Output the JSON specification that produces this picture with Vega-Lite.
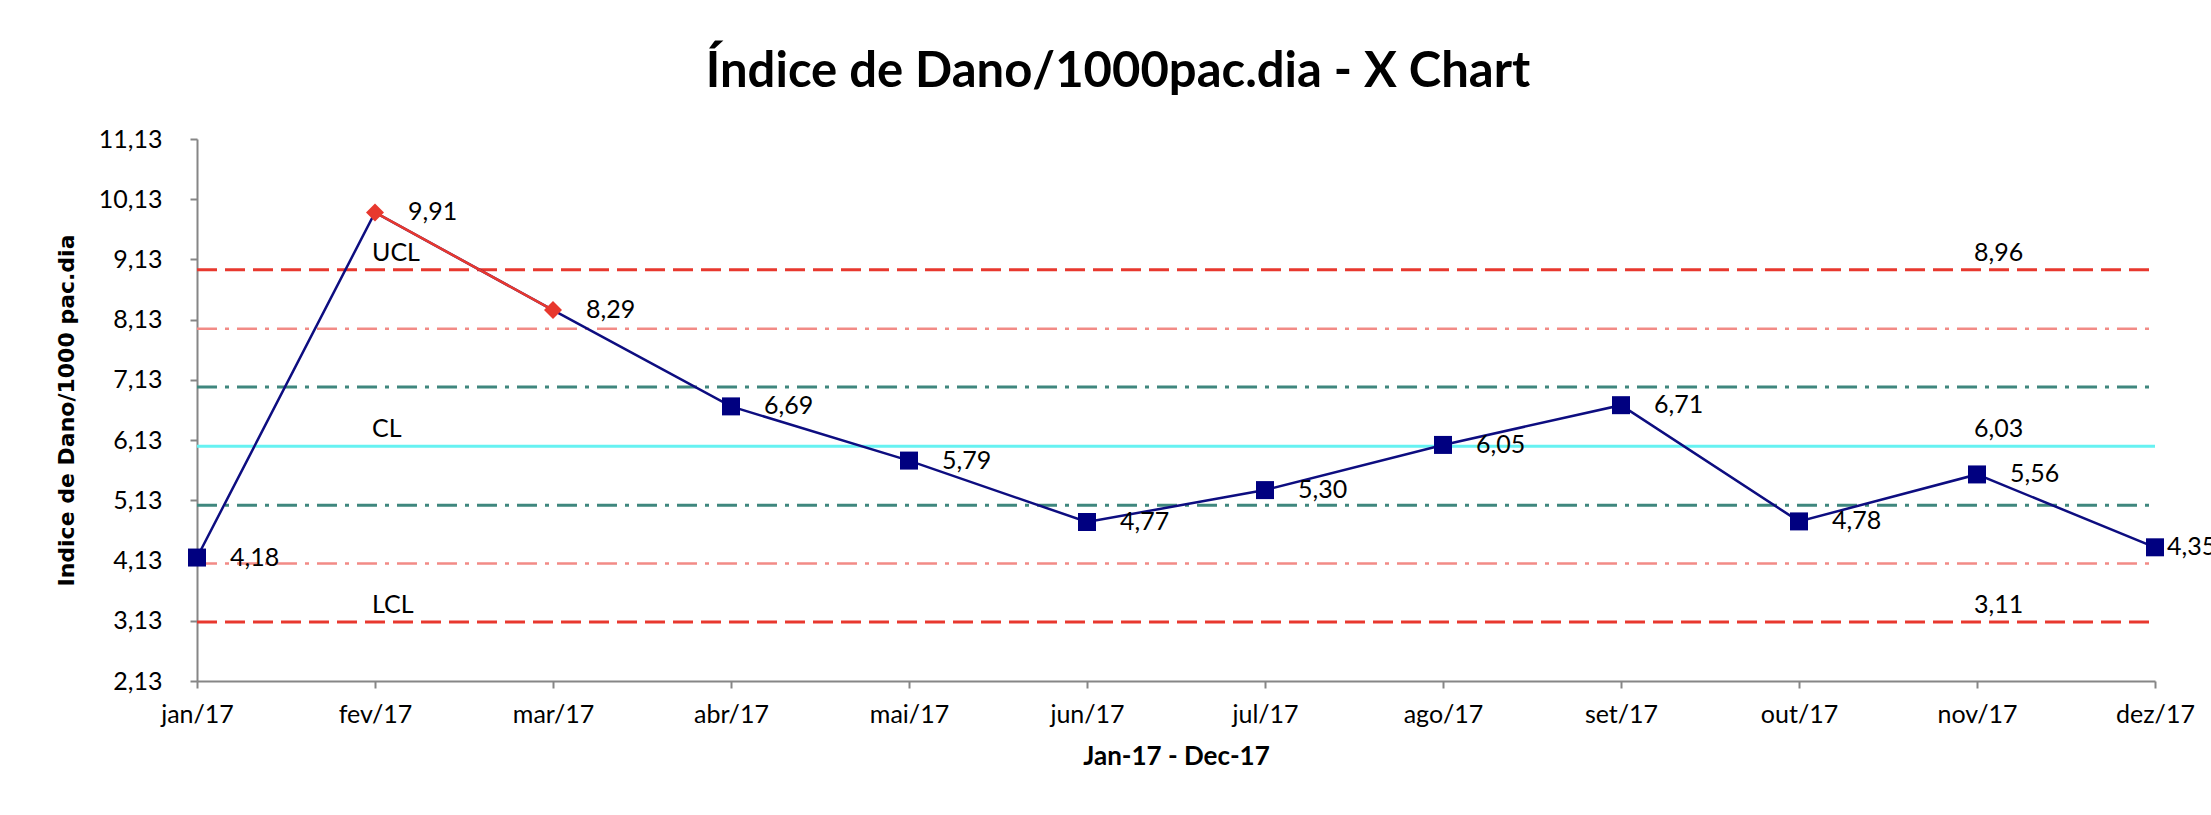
{
  "$schema": "https://vega.github.io/schema/vega-lite/v6.json",
  "width": 1958,
  "height": 542,
  "autosize": {"type": "none"},
  "padding": {"left": 197, "top": 139, "right": 56, "bottom": 134},
  "background": "white",
  "config": {
    "view": {"stroke": null},
    "locale": {"number": {"decimal": ",", "thousands": ".", "grouping": [3], "currency": ["R$", ""]}}
  },
  "title": {
    "text": "Índice de Dano/1000pac.dia - X Chart",
    "font": "Lato",
    "fontSize": 49,
    "fontWeight": "bold",
    "color": "black",
    "anchor": "middle",
    "frame": "group",
    "baseline": "alphabetic",
    "offset": -9,
    "dx": -58
  },
  "datasets": {
    "series": [
      {"month": "jan/17", "value": 4.18, "out": false},
      {"month": "fev/17", "value": 9.91, "out": true},
      {"month": "mar/17", "value": 8.29, "out": true},
      {"month": "abr/17", "value": 6.69, "out": false},
      {"month": "mai/17", "value": 5.79, "out": false},
      {"month": "jun/17", "value": 4.77, "out": false},
      {"month": "jul/17", "value": 5.30, "out": false},
      {"month": "ago/17", "value": 6.05, "out": false},
      {"month": "set/17", "value": 6.71, "out": false},
      {"month": "out/17", "value": 4.78, "out": false},
      {"month": "nov/17", "value": 5.56, "out": false},
      {"month": "dez/17", "value": 4.35, "out": false}
    ],
    "limits": [
      {"lim": "UCL", "kind": "ctrl", "month": "jan/17", "value": 8.96},
      {"lim": "UCL", "kind": "ctrl", "month": "dez/17", "value": 8.96},
      {"lim": "LCL", "kind": "ctrl", "month": "jan/17", "value": 3.11},
      {"lim": "LCL", "kind": "ctrl", "month": "dez/17", "value": 3.11},
      {"lim": "U2", "kind": "s2", "month": "jan/17", "value": 7.98},
      {"lim": "U2", "kind": "s2", "month": "dez/17", "value": 7.98},
      {"lim": "L2", "kind": "s2", "month": "jan/17", "value": 4.08},
      {"lim": "L2", "kind": "s2", "month": "dez/17", "value": 4.08},
      {"lim": "U1", "kind": "s1", "month": "jan/17", "value": 7.01},
      {"lim": "U1", "kind": "s1", "month": "dez/17", "value": 7.01},
      {"lim": "L1", "kind": "s1", "month": "jan/17", "value": 5.05},
      {"lim": "L1", "kind": "s1", "month": "dez/17", "value": 5.05},
      {"lim": "CL", "kind": "cl", "month": "jan/17", "value": 6.03},
      {"lim": "CL", "kind": "cl", "month": "dez/17", "value": 6.03}
    ],
    "limitLabels": [
      {"month": "fev/17", "value": 8.96, "text": "UCL"},
      {"month": "fev/17", "value": 6.03, "text": "CL"},
      {"month": "fev/17", "value": 3.11, "text": "LCL"},
      {"month": "nov/17", "value": 8.96, "text": "8,96"},
      {"month": "nov/17", "value": 6.03, "text": "6,03"},
      {"month": "nov/17", "value": 3.11, "text": "3,11"}
    ]
  },
  "data": {"name": "series"},
  "encoding": {
    "x": {
      "field": "month",
      "type": "ordinal",
      "scale": {
        "type": "point",
        "padding": 0,
        "domain": ["jan/17", "fev/17", "mar/17", "abr/17", "mai/17", "jun/17", "jul/17", "ago/17", "set/17", "out/17", "nov/17", "dez/17"]
      },
      "axis": {
        "title": "Jan-17 - Dec-17",
        "titleFont": "Lato",
        "titleFontSize": 26,
        "titleFontWeight": "bold",
        "titleColor": "black",
        "titlePadding": 16,
        "labelFont": "Lato",
        "labelFontSize": 25,
        "labelColor": "black",
        "labelAngle": 0,
        "labelPadding": 14,
        "tickSize": 7,
        "tickWidth": 2,
        "tickColor": "#868686",
        "domainColor": "#868686",
        "domainWidth": 2,
        "grid": false
      }
    },
    "y": {
      "field": "value",
      "type": "quantitative",
      "scale": {"domain": [2.13, 11.13], "nice": false, "zero": false},
      "axis": {
        "title": "Indice de Dano/1000 pac.dia",
        "titleFont": "DejaVu Sans",
        "titleFontSize": 22,
        "titleFontWeight": "bold",
        "titleColor": "black",
        "titlePadding": 20,
        "values": [2.13, 3.13, 4.13, 5.13, 6.13, 7.13, 8.13, 9.13, 10.13, 11.13],
        "format": ".2f",
        "labelFont": "Lato",
        "labelFontSize": 25,
        "labelColor": "black",
        "labelPadding": 28,
        "tickSize": 7,
        "tickWidth": 2,
        "tickColor": "#868686",
        "domainColor": "#868686",
        "domainWidth": 2,
        "grid": false
      }
    }
  },
  "layer": [
    {
      "data": {"name": "limits"},
      "transform": [{"filter": "datum.kind === 's1'"}],
      "mark": {"type": "line", "color": "#3f877e", "strokeWidth": 3, "strokeDash": [20, 8, 4, 8]},
      "encoding": {"detail": {"field": "lim"}}
    },
    {
      "data": {"name": "limits"},
      "transform": [{"filter": "datum.kind === 's2'"}],
      "mark": {"type": "line", "color": "#f28b86", "strokeWidth": 2.5, "strokeDash": [20, 8, 4, 8]},
      "encoding": {"detail": {"field": "lim"}}
    },
    {
      "data": {"name": "limits"},
      "transform": [{"filter": "datum.kind === 'cl'"}],
      "mark": {"type": "line", "color": "#66f2f2", "strokeWidth": 3},
      "encoding": {"detail": {"field": "lim"}}
    },
    {
      "data": {"name": "limits"},
      "transform": [{"filter": "datum.kind === 'ctrl'"}],
      "mark": {"type": "line", "color": "#e8382e", "strokeWidth": 3, "strokeDash": [20, 8]},
      "encoding": {"detail": {"field": "lim"}}
    },
    {
      "data": {"name": "limitLabels"},
      "mark": {"type": "text", "align": "left", "baseline": "alphabetic", "dx": -3, "dy": -9, "font": "Lato", "fontSize": 25, "color": "black"},
      "encoding": {"text": {"field": "text"}}
    },
    {
      "mark": {"type": "line", "color": "#0d0d80", "strokeWidth": 2.5},
      "encoding": {}
    },
    {
      "transform": [{"filter": "datum.out"}],
      "mark": {"type": "line", "color": "#e8382e", "strokeWidth": 2.5},
      "encoding": {}
    },
    {
      "transform": [{"filter": "!datum.out"}],
      "mark": {"type": "point", "shape": "square", "filled": true, "size": 324, "color": "#000080", "opacity": 1},
      "encoding": {}
    },
    {
      "transform": [{"filter": "datum.out"}],
      "mark": {"type": "point", "shape": "diamond", "filled": true, "size": 324, "color": "#e8382e", "opacity": 1},
      "encoding": {}
    },
    {
      "transform": [{"filter": "datum.month !== 'dez/17'"}],
      "mark": {"type": "text", "align": "left", "baseline": "middle", "dx": 33, "font": "Lato", "fontSize": 25, "color": "black"},
      "encoding": {"text": {"field": "value", "type": "quantitative", "format": ".2f"}}
    },
    {
      "transform": [{"filter": "datum.month === 'dez/17'"}],
      "mark": {"type": "text", "align": "left", "baseline": "middle", "dx": 12, "font": "Lato", "fontSize": 25, "color": "black"},
      "encoding": {"text": {"field": "value", "type": "quantitative", "format": ".2f"}}
    }
  ]
}
